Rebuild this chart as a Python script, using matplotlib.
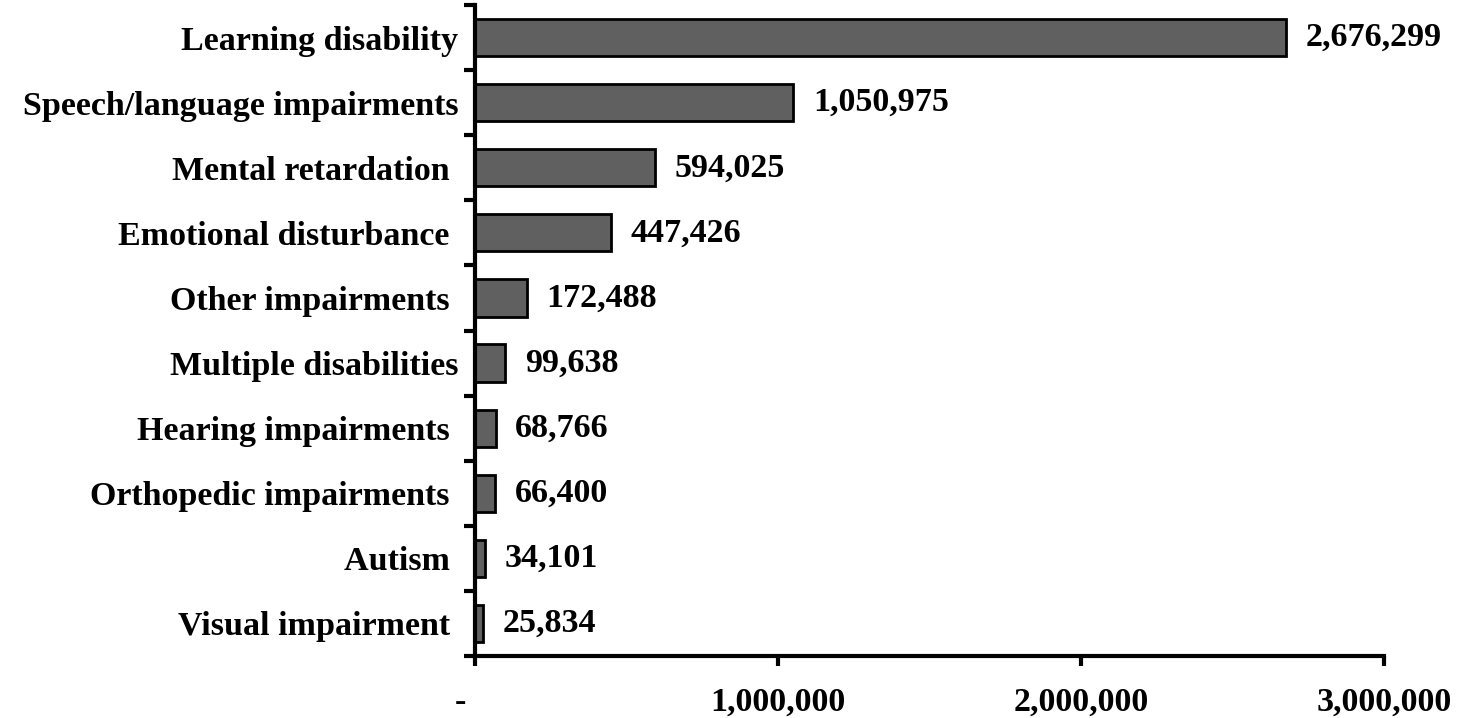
import matplotlib
matplotlib.use('Agg')
import matplotlib.pyplot as plt
import matplotlib.transforms as mtransforms
import numpy as np

plt.rcParams['font.family'] = ['Liberation Serif', 'DejaVu Serif']
plt.rcParams['font.weight'] = 'bold'

## Data (top to bottom as in the chart)

categories = ['Learning disability', 'Speech/language impairments',
              'Mental retardation ', 'Emotional disturbance ',
              'Other impairments ', 'Multiple disabilities',
              'Hearing impairments ', 'Orthopedic impairments ',
              'Autism ', 'Visual impairment ']
counts = [2676299, 1050975, 594025, 447426, 172488,
          99638, 68766, 66400, 34101, 25834]
xticks = [0, 1000000, 2000000, 3000000]
xtick_labels = ['-', '1,000,000', '2,000,000', '3,000,000']

fs = 24.5

## Plot

fig = plt.figure(figsize=(14.57, 7.18), dpi=100)
ax = fig.add_axes([475/1457, 62/718, 909/1457, 651/718])

y = np.arange(len(categories))[::-1]
ax.barh(y, counts, height=0.57, color='#606060', edgecolor='black', linewidth=2.0)

for yi, v in zip(y, counts):
    ax.annotate(f'{v:,}', (v, yi), xytext=(14, 0), textcoords='offset points',
                ha='left', va='center', fontsize=fs, fontweight='bold')

ax.set_xlim(0, 3000000)
ax.set_ylim(-0.5, len(categories) - 0.5)

ax.set_yticks(y)
ax.set_yticklabels(categories, fontsize=fs, fontweight='bold')
ax.set_yticks(np.arange(len(categories) + 1) - 0.5, minor=True)
ax.tick_params(axis='y', which='major', length=0, pad=12)
ax.tick_params(axis='y', which='minor', length=8, width=3, direction='out')

ax.set_xticks(xticks)
ax.set_xticklabels(xtick_labels, fontsize=fs, fontweight='bold')
ax.tick_params(axis='x', length=7, width=3, direction='out', pad=15)
# accounting-style "-" sits left of the zero tick
dash = ax.get_xticklabels()[0]
dash.set_transform(dash.get_transform() + mtransforms.ScaledTranslation(-15/100, 0, fig.dpi_scale_trans))

for s in ['top', 'right']:
    ax.spines[s].set_visible(False)
for s in ['left', 'bottom']:
    ax.spines[s].set_linewidth(3)

fig.savefig('out.png', dpi=100)
